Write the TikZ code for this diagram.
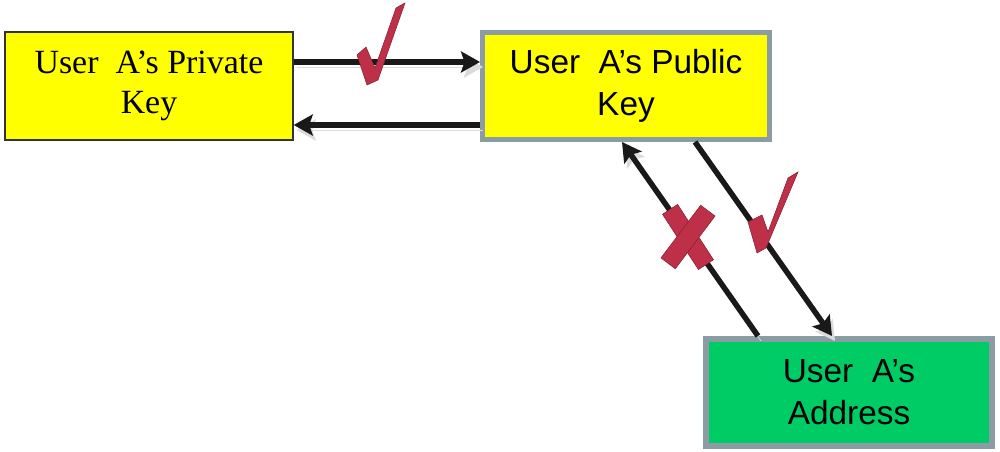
\documentclass[tikz,border=0pt]{standalone}
\usepackage{fontspec}
\setmainfont{Liberation Sans}
\newfontfamily\timesfont{Liberation Serif}
\usetikzlibrary{arrows.meta,calc}
\definecolor{keyyellow}{RGB}{255,255,0}
\definecolor{addrgreen}{RGB}{0,204,102}
\definecolor{rimgray}{RGB}{140,156,164}
\definecolor{markred}{RGB}{190,48,72}
\begin{document}
\begin{tikzpicture}[x=0.02cm,y=0.02cm,
	keybox/.style={fill=keyyellow,draw=rimgray,line width=0.1cm,minimum width=5.74cm,minimum height=2.14cm,inner sep=0pt,align=center,font=\fontsize{19}{24}\selectfont},
	arr/.style={line width=0.11cm,draw=black!90,-{Stealth[length=0.38cm,width=0.42cm,inset=0.07cm]},preaction={draw=black!14,transform canvas={shift={(0.06cm,-0.1cm)}}}},
	redmark/.style={fill=markred,draw=markred!70!black,line width=0.3pt}]
	\useasboundingbox (0,0) rectangle (1000,452);
	\node[keybox,draw=black!80,line width=0.03cm,minimum width=5.76cm,minimum height=2.16cm,font=\timesfont\fontsize{19.3}{23}\selectfont] (priv) at (149,366) {User\ \ A’s Private\\Key};
	\node[keybox] (pub) at (626,366) {User\ \ A’s Public\\Key};
	\node[keybox,fill=addrgreen,line width=0.12cm,minimum width=5.72cm] (addr) at (849,59.5) {User\ \ A’s\\Address};
	% key to key
	\draw[arr] ($(priv.east)+(0,24)$) -- ($(pub.west)+(0,24)$);
	\draw[arr] ($(pub.west)+(0,-39)$) -- ($(priv.east)+(0,-39)$);
	% key to address
	\draw[arr] ($(addr.north)+(-91,0)$) -- ($(pub.south)+(-4,0)$);
	\draw[arr] ($(pub.south)+(69,0)$) -- ($(addr.north)+(-17,0)$);
	\filldraw[redmark] (357,397)--(366,405)--(375,384)--(396,444)--(405,449)--(378,372)--(367,367)--cycle;
	\filldraw[redmark] (748,230)--(762,237)--(768,220)--(788,274)--(798,280)--(766,204)--(757,199)--cycle;
	\filldraw[redmark,rotate around={-57:(688,215)}] (655,206) rectangle (721,224);
	\filldraw[redmark,rotate around={53:(688,215)}] (655,206) rectangle (721,224);
\end{tikzpicture}
\end{document}
